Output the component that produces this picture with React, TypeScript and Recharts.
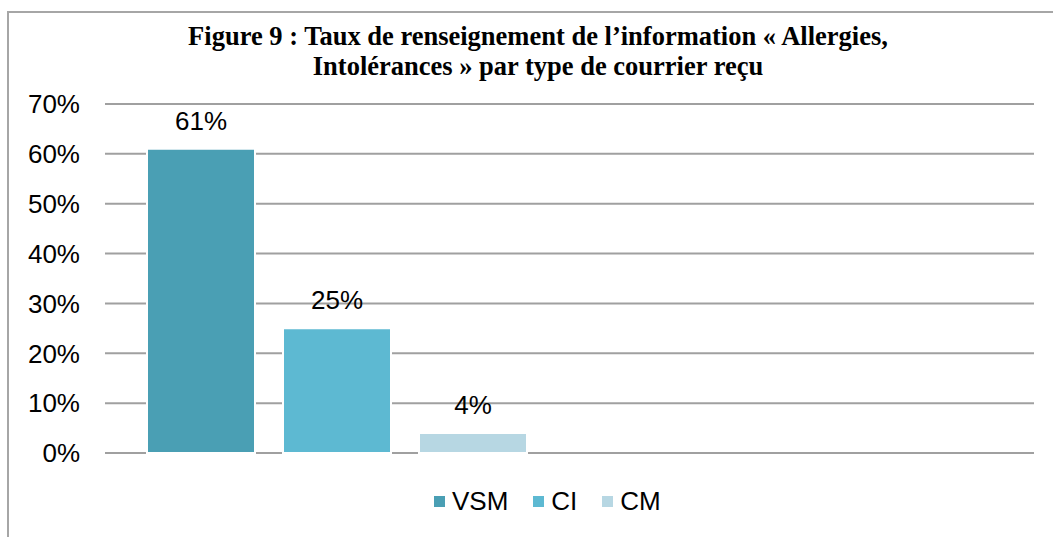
import React from 'react'
import { BarChart, Bar, XAxis, YAxis, CartesianGrid, Legend, LabelList } from 'recharts'

const categories = ['Courrier', '']
const vsmValues = [61, null]
const ciValues = [25, null]
const cmValues = [4, null]
const yTicks = [0, 10, 20, 30, 40, 50, 60, 70]
const seriesOrder = ['VSM', 'CI', 'CM']

const data = categories.map((name, i) => ({
  name,
  VSM: vsmValues[i],
  CI: ciValues[i],
  CM: cmValues[i],
}))

const pct = (v: any) => (v === null || v === undefined ? '' : `${v}%`)

// legend drawn like Excel: small square, text, wide gap
const renderLegend = (props: any) => {
  const items = [...(props.payload || [])].sort(
    (a: any, b: any) => seriesOrder.indexOf(a.value) - seriesOrder.indexOf(b.value)
  )
  return (
    <div style={{ display: 'flex', justifyContent: 'center', alignItems: 'center', height: 33 }}>
      {items.map((item: any, i: number) => (
        <div key={item.value} style={{ display: 'flex', alignItems: 'center', marginLeft: i === 0 ? 0 : 25 }}>
          <span style={{ display: 'inline-block', width: 11, height: 11, background: item.color, marginRight: 7 }} />
          <span style={{ color: '#000', fontSize: 26, lineHeight: '33px' }}>{item.value}</span>
        </div>
      ))}
    </div>
  )
}

const App = () => {
  return (
    <div style={{ position: 'absolute', left: 0, top: 0, width: 1053, height: 537, background: '#fff' }}>
      <div
        style={{
          position: 'absolute',
          left: 7,
          top: 11,
          width: 1060,
          height: 540,
          borderLeft: '2px solid #a6a6a6',
          borderTop: '2px solid #a6a6a6',
        }}
      />
      <div
        style={{
          position: 'absolute',
          left: 88,
          width: 900,
          top: 21,
          textAlign: 'center',
          fontFamily: '"Liberation Serif", "Times New Roman", serif',
          fontWeight: 'bold',
          fontSize: 26.5,
          lineHeight: '30px',
          color: '#000',
          whiteSpace: 'nowrap',
        }}
      >
        Figure 9 : Taux de renseignement de l’information « Allergies,
        <br />
        Intolérances » par type de courrier reçu
      </div>
      <BarChart
        width={1053}
        height={537}
        data={data}
        margin={{ top: 104, right: 19, left: 0, bottom: 19 }}
        barGap={28}
        style={{ position: 'absolute', left: 0, top: 0, fontFamily: '"Liberation Sans", Arial, sans-serif' }}
      >
        <CartesianGrid vertical={false} stroke="#a0a0a0" strokeWidth={2} />
        <XAxis dataKey="name" height={32} tick={false} axisLine={false} tickLine={false} />
        <YAxis
          width={105}
          domain={[0, 70]}
          ticks={yTicks}
          tickFormatter={pct}
          axisLine={false}
          tickLine={false}
          tickMargin={19}
          tick={{ fill: '#000', fontSize: 26 }}
        />
        <Legend
          verticalAlign="bottom"
          align="center"
          height={33}
          content={renderLegend}
          wrapperStyle={{ left: 434, width: 'auto' }}
        />
        <Bar dataKey="VSM" fill="#4a9fb4" stroke="#fff" strokeWidth={2} barSize={108} isAnimationActive={false}>
          <LabelList dataKey="VSM" position="top" offset={19} formatter={pct} fill="#000" fontSize={26} />
        </Bar>
        <Bar dataKey="CI" fill="#5db9d2" stroke="#fff" strokeWidth={2} barSize={108} isAnimationActive={false}>
          <LabelList dataKey="CI" position="top" offset={19} formatter={pct} fill="#000" fontSize={26} />
        </Bar>
        <Bar dataKey="CM" fill="#b7d7e3" stroke="#fff" strokeWidth={2} barSize={108} isAnimationActive={false}>
          <LabelList dataKey="CM" position="top" offset={19} formatter={pct} fill="#000" fontSize={26} />
        </Bar>
      </BarChart>
    </div>
  )
}

export default App
